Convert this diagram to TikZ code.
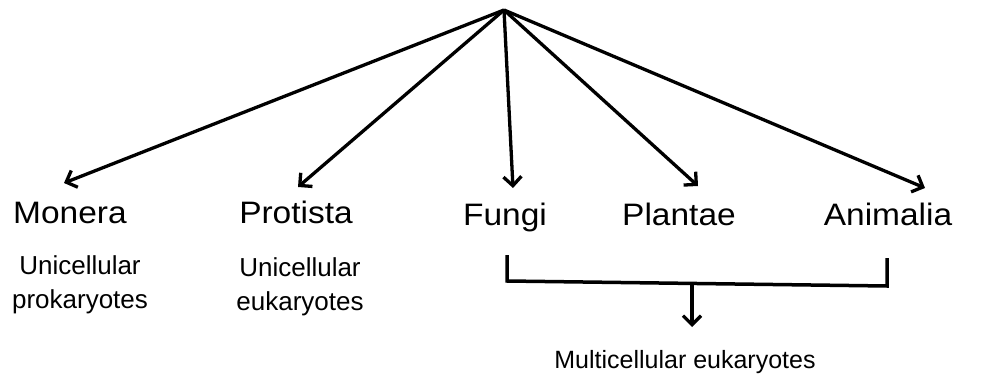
\documentclass[tikz,border=0pt]{standalone}
\usepackage{fontspec}
\setmainfont{Liberation Sans}
\usetikzlibrary{arrows.meta}
\begin{document}
\begin{tikzpicture}[x=1pt,y=-1pt,
  conn/.style={line width=3.3pt,-{Straight Barb[length=9pt,width=18pt]},line join=round},
  bracket/.style={line width=3.5pt,line join=miter},
  kingdom/.style={anchor=base,inner sep=0pt,font=\fontsize{31}{31}\selectfont,xscale=1.08},
  note/.style={anchor=base,inner sep=0pt,align=center,font=\fontsize{26}{34}\selectfont},
  wide/.style={anchor=base,inner sep=0pt,font=\fontsize{25}{30}\selectfont}]
\useasboundingbox (0,0) rectangle (998,377);
% root of the tree
\coordinate (apex) at (504,10);
% tips of the arrows above the kingdom names
\coordinate (tMon) at (64,183);
\coordinate (tPro) at (298,187);
\coordinate (tFun) at (513,188);
\coordinate (tPla) at (698,186);
\coordinate (tAni) at (925,188);
% kingdom names
\node[kingdom] (monera)   at (70,223)  {Monera};
\node[kingdom] (protista) at (296,223) {Protista};
\node[kingdom] (fungi)    at (505,225) {Fungi};
\node[kingdom] (plantae)  at (679,225) {Plantae};
\node[kingdom] (animalia) at (888,225) {Animalia};
% descriptions (base = last line)
\node[note] (uniPro) at (80,308) {Unicellular\\prokaryotes};
\node[note] (uniEu)  at (300,310) {Unicellular\\eukaryotes};
\node[wide] (multi)  at (685,368) {Multicellular eukaryotes};
% branches
\draw[conn] (apex) -- (tMon);
\draw[conn] (apex) -- (tPro);
\draw[conn] (apex) -- (tFun);
\draw[conn] (apex) -- (tPla);
\draw[conn] (apex) -- (tAni);
% bracket joining the multicellular kingdoms
\coordinate (bL) at (507,255);
\coordinate (bLc) at (507,281);
\coordinate (bRc) at (887,286);
\coordinate (bR) at (887,258);
\coordinate (bM) at (692,283);
\coordinate (bTip) at (692,327);
\draw[bracket] (bL) -- (bLc) -- (bRc) -- (bR);
\draw[conn] (bM) -- (bTip);
\end{tikzpicture}
\end{document}
